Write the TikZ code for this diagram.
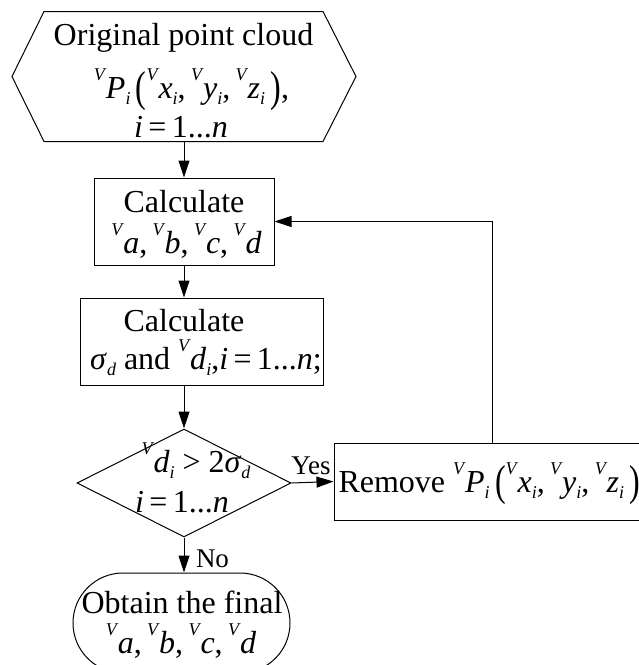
\documentclass[tikz,border=0pt]{standalone}
\usepackage{graphicx}
\usepackage{fontspec}
\setmainfont{Liberation Serif}
\usetikzlibrary{arrows.meta,shapes.geometric}
\newcommand{\fsmain}{\fontsize{32}{38}\selectfont}
\newcommand{\fslab}{\fontsize{27}{32}\selectfont}
\newcommand{\sps}[1]{\raisebox{17.5pt}{\fontsize{18}{18}\selectfont\itshape #1}\kern1pt}
\newcommand{\sbs}[1]{\raisebox{-6pt}{\fontsize{18}{18}\selectfont\itshape #1}}
\newcommand{\iv}[1]{\textit{#1}}
\newcommand{\bigp}[1]{\raisebox{-3pt}{\scalebox{1}[1.35]{#1}}}
\newcommand{\ptcloud}{\sps{V}\iv{P}\sbs{i}\,\bigp{(}\sps{V}\iv{x}\sbs{i},\,\sps{V}\iv{y}\sbs{i},\,\sps{V}\iv{z}\sbs{i}\,\bigp{)}}
\newcommand{\abcd}{\sps{V}\iv{a},\,\sps{V}\iv{b},\,\sps{V}\iv{c},\,\sps{V}\iv{d}}
\newcommand{\ione}{\iv{i}\,=\,1...\iv{n}}
\begin{document}
\begin{tikzpicture}[x=1pt,y=-1pt,
  line width=1pt,
  shapebox/.style={draw, inner sep=0pt, minimum width=#1},
  txt/.style={inner sep=0pt, anchor=base, font=\fsmain},
  lab/.style={inner sep=0pt, anchor=base, font=\fslab},
  arr/.style={-{Triangle[length=17pt,width=11pt]}}]
\useasboundingbox (0,0) rectangle (639,665);
% hexagon
\node[inner sep=0pt, minimum width=343pt, minimum height=129pt] (hex) at (184,76.5) {};
\draw (hex.west) -- ([xshift=32pt]hex.north west) -- ([xshift=-33pt]hex.north east)
  -- (hex.east) -- ([xshift=-33pt]hex.south east) -- ([xshift=32pt]hex.south west) -- cycle;
\node[txt] (h1) at (183.5,45) {Original point cloud};
\node[txt] (h2) at (191.5,98) {\ptcloud,};
\node[txt] (h3) at (181,137) {\ione};
% calc A
\node[shapebox=180pt, minimum height=87pt] (calcA) at (184,221.5) {};
\node[txt] (a1) at (184,212) {Calculate};
\node[txt] (a2) at (186.5,253) {\abcd};
% calc B
\node[shapebox=243pt, minimum height=87pt] (calcB) at (201.5,341.5) {};
\node[txt] (b1) at (184,331) {Calculate};
\node[txt] (b2) at (206,369) {\iv{σ}\sbs{d} and \sps{V}\iv{d}\sbs{i},\iv{i}\,=\,1...\iv{n};};
% decision
\node[draw, diamond, inner sep=0pt, minimum width=214pt, minimum height=108pt] (test) at (184,483) {};
\node[txt] (t1) at (196,472) {\sps{V}\iv{d}\sbs{i} > 2\iv{σ}\sbs{d}};
\node[txt] (t2) at (182,512) {\ione};
% remove
\node[shapebox=316pt, minimum height=77pt] (remove) at (492,481.5) {};
\node[txt, anchor=base west] (r1) at (338,492) {Remove \ptcloud};
% final
\node[draw, inner sep=0pt, rounded corners=50pt, minimum width=217pt, minimum height=100pt] (final) at (181.5,623) {};
\node[txt] (f1) at (182,613) {Obtain the final};
\node[txt] (f2) at (181,653) {\abcd};
% connectors
\draw[arr] (hex.south) -- (calcA.north);
\draw[arr] (calcA.south) -- (calcA.south |- calcB.north);
\draw[arr] (calcA.south |- calcB.south) -- (test.north);
\draw[arr] (test.east) -- (remove.west);
\draw[arr] (remove.north) |- (calcA.east);
\draw[arr] (test.south) -- (test.south |- final.north);
\node[lab] (yes) at (311,474) {Yes};
\node[lab] (no) at (212.5,567) {No};
\end{tikzpicture}
\end{document}
